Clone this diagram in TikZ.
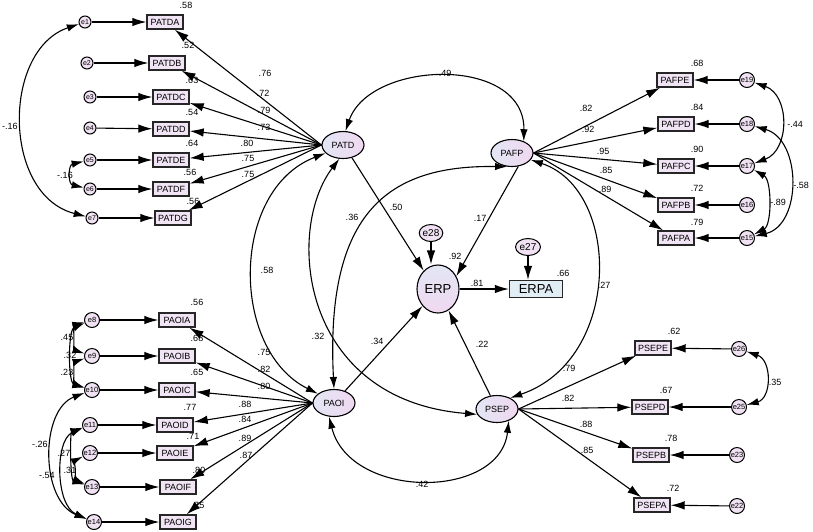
\documentclass[tikz,border=0pt]{standalone}
\usepackage{fontspec}
\setmainfont{Liberation Sans}
\usetikzlibrary{arrows.meta,shapes.geometric}
\definecolor{latL}{RGB}{226,230,244}
\definecolor{latR}{RGB}{240,216,240}
\definecolor{obsfill}{RGB}{241,229,245}
\definecolor{errfill}{RGB}{240,226,243}
\definecolor{erpafill}{RGB}{226,238,246}
\begin{document}
\begin{tikzpicture}[x=1pt,y=-1pt,
  lat/.style={ellipse, draw, line width=1.1pt, left color=latL, right color=latR, minimum width=42pt, minimum height=27pt, inner sep=0pt, font=\fontsize{9}{9}\selectfont},
  obs/.style={rectangle, draw=black!85, line width=1.4pt, fill=obsfill, minimum width=36pt, minimum height=14pt, inner sep=1pt, font=\fontsize{9}{9}\selectfont},
  errs/.style={circle, draw, line width=1pt, fill=errfill, minimum size=12pt, inner sep=0pt, font=\fontsize{7}{7}\selectfont},
  errb/.style={circle, draw, line width=1pt, fill=errfill, minimum size=15pt, inner sep=0pt, font=\fontsize{7.5}{7.5}\selectfont},
  erre/.style={ellipse, draw, line width=1pt, fill=errfill, minimum width=22pt, minimum height=17pt, inner sep=0pt, font=\fontsize{10}{10}\selectfont},
  pth/.style={-{Latex[length=14pt,width=8.5pt]}, line width=1.1pt},
  cov/.style={{Latex[length=12pt,width=7.5pt]}-{Latex[length=12pt,width=7.5pt]}, line width=1.1pt},
  num/.style={font=\fontsize{9}{9}\selectfont, inner sep=0pt}]
\useasboundingbox (0,0) rectangle (813,531);
\fill[white] (0,0) rectangle (813,531);

% latent variables
\node[lat] (PATD) at (343,145) {PATD};
\node[lat] (PAFP) at (512,153) {PAFP};
\node[lat] (PAOI) at (334,403) {PAOI};
\node[lat] (PSEP) at (497,409) {PSEP};
\node[lat, minimum width=42pt, minimum height=48pt, top color=latL, bottom color=latR, font=\fontsize{13}{13}\selectfont] (ERP) at (438,289) {ERP};
\node[obs, fill=erpafill, minimum width=53pt, minimum height=17pt, font=\fontsize{13}{13}\selectfont] (ERPA) at (536,289) {ERPA};
\node[erre] (e28) at (431,233) {e28};
\node[erre, minimum width=25pt] (e27) at (528,247) {e27};

% PATD indicators
\node[obs] (PATDA) at (165,22) {PATDA};
\node[obs] (PATDB) at (167,63) {PATDB};
\node[obs] (PATDC) at (171,97) {PATDC};
\node[obs] (PATDD) at (171,129) {PATDD};
\node[obs] (PATDE) at (171,160) {PATDE};
\node[obs] (PATDF) at (171,189) {PATDF};
\node[obs] (PATDG) at (173,218) {PATDG};
\node[errs] (e1) at (85,22) {e1};
\node[errs] (e2) at (87,63) {e2};
\node[errs] (e3) at (90,97) {e3};
\node[errs] (e4) at (90,128) {e4};
\node[errs] (e5) at (90,160) {e5};
\node[errs] (e6) at (90,189) {e6};
\node[errs] (e7) at (92,218) {e7};

% PAOI indicators
\node[obs] (PAOIA) at (177,320) {PAOIA};
\node[obs] (PAOIB) at (177,356) {PAOIB};
\node[obs] (PAOIC) at (177,390) {PAOIC};
\node[obs] (PAOID) at (175,425) {PAOID};
\node[obs] (PAOIE) at (175,453) {PAOIE};
\node[obs] (PAOIF) at (178,487) {PAOIF};
\node[obs] (PAOIG) at (178,522) {PAOIG};
\node[errb] (e8) at (92,320) {e8};
\node[errb] (e9) at (92,356) {e9};
\node[errb] (e10) at (92,390) {e10};
\node[errb] (e11) at (90,425) {e11};
\node[errb] (e12) at (90,453) {e12};
\node[errb] (e13) at (92,487) {e13};
\node[errb] (e14) at (94,522) {e14};

% PAFP indicators
\node[obs] (PAFPE) at (675,80) {PAFPE};
\node[obs] (PAFPD) at (676,124) {PAFPD};
\node[obs] (PAFPC) at (676,166) {PAFPC};
\node[obs] (PAFPB) at (676,205) {PAFPB};
\node[obs] (PAFPA) at (676,238) {PAFPA};
\node[errb] (e19) at (747,80) {e19};
\node[errb] (e18) at (747,124) {e18};
\node[errb] (e17) at (747,166) {e17};
\node[errb] (e16) at (747,205) {e16};
\node[errb] (e15) at (747,238) {e15};

% PSEP indicators
\node[obs] (PSEPE) at (653,348) {PSEPE};
\node[obs] (PSEPD) at (650,407) {PSEPD};
\node[obs] (PSEPB) at (651,455) {PSEPB};
\node[obs] (PSEPA) at (652,505) {PSEPA};
\node[errb] (e26) at (739,349) {e26};
\node[errb] (e25) at (739,407) {e25};
\node[errb] (e23) at (737,455) {e23};
\node[errb] (e22) at (737,506) {e22};

% error -> indicator
\foreach \e/\v in {e1/PATDA,e2/PATDB,e3/PATDC,e4/PATDD,e5/PATDE,e6/PATDF,e7/PATDG,
  e8/PAOIA,e9/PAOIB,e10/PAOIC,e11/PAOID,e12/PAOIE,e13/PAOIF,e14/PAOIG,
  e19/PAFPE,e18/PAFPD,e17/PAFPC,e16/PAFPB,e15/PAFPA,
  e26/PSEPE,e25/PSEPD,e23/PSEPB,e22/PSEPA}
  \draw[pth] (\e) -- (\v);

% loadings
\foreach \v in {PATDA,PATDB,PATDC,PATDD,PATDE,PATDF,PATDG} \draw[pth] (PATD.west) -- (\v);
\foreach \v in {PAOIA,PAOIB,PAOIC,PAOID,PAOIE,PAOIF,PAOIG} \draw[pth] (PAOI.west) -- (\v);
\foreach \v in {PAFPE,PAFPD,PAFPC,PAFPB,PAFPA} \draw[pth] (PAFP.east) -- (\v);
\foreach \v in {PSEPE,PSEPD,PSEPB,PSEPA} \draw[pth] (PSEP.east) -- (\v);

% structural paths
\draw[pth] (PATD.-55) -- (ERP.128);
\draw[pth] (PAFP.-65) -- (ERP.35);
\draw[pth] (PAOI) -- (ERP);
\draw[pth] (PSEP) -- (ERP);
\draw[pth] (ERP) -- (ERPA);
\draw[pth] (e28) -- (e28 |- ERP.north);
\draw[pth] (e27) -- (e27 |- ERPA.north);

% latent covariances
\draw[cov] (PATD.80) .. controls (370,60) and (525,55) .. (PAFP.45);
\draw[cov] (PAOI.north) .. controls (325,210) and (390,165) .. (PAFP.250);
\draw[cov] (PATD.205) .. controls (230,190) and (230,350) .. (PAOI.150);
\draw[cov] (PATD.255) .. controls (285,230) and (300,400) .. (PSEP.195);
\draw[cov] (PAFP.-20) .. controls (622,190) and (622,360) .. (PSEP.40);
\draw[cov] (PAOI.250) .. controls (350,500) and (500,500) .. (PSEP.-45);

% error covariances
\draw[cov] (e1) .. controls (2,50) and (2,195) .. (e7);
\draw[cov] (e5) .. controls (68,165) and (68,184) .. (e6);
\draw[cov] (e8) .. controls (74,325) and (74,350) .. (e9);
\draw[cov] (e8) .. controls (68,330) and (68,382) .. (e10);
\draw[cov] (e9) .. controls (74,362) and (74,385) .. (e10);
\draw[cov] (e10) .. controls (40,410) and (40,500) .. (e14);
\draw[cov] (e11) .. controls (55,440) and (55,505) .. (e14);
\draw[cov] (e11) .. controls (70,432) and (70,480) .. (e13);
\draw[cov] (e12) .. controls (76,460) and (76,480) .. (e13);
\draw[cov] (e19) .. controls (790,95) and (790,150) .. (e17);
\draw[cov] (e18) .. controls (802,140) and (802,225) .. (e15);
\draw[cov] (e17) .. controls (772,180) and (772,225) .. (e15);
\draw[cov] (e26) .. controls (772,360) and (772,398) .. (e25);

% numbers: squared multiple correlations
\node[num] (r1) at (186,5) {.58};
\node[num] (r2) at (188,45) {.52};
\node[num] (r3) at (192,80) {.63};
\node[num] (r4) at (192,112) {.54};
\node[num] (r5) at (192,143) {.64};
\node[num] (r6) at (190,172) {.56};
\node[num] (r7) at (193,201) {.56};
\node[num] (r8) at (197,302) {.56};
\node[num] (r9) at (197,338) {.68};
\node[num] (r10) at (197,372) {.65};
\node[num] (r11) at (190,407) {.77};
\node[num] (r12) at (193,436) {.71};
\node[num] (r13) at (199,470) {.80};
\node[num] (r14) at (198,505) {.75};
\node[num] (r19) at (697,63) {.68};
\node[num] (r18) at (697,107) {.84};
\node[num] (r17) at (697,149) {.90};
\node[num] (r16) at (697,188) {.72};
\node[num] (r15) at (697,222) {.79};
\node[num] (r26) at (674,331) {.62};
\node[num] (r25) at (666,390) {.67};
\node[num] (r23) at (671,438) {.78};
\node[num] (r22) at (673,488) {.72};
\node[num] (rERP) at (455,256) {.92};
\node[num] (rERPA) at (563,273) {.66};

% loadings labels
\node[num] (l1) at (265,73) {.76};
\node[num] (l2) at (263,93) {.72};
\node[num] (l3) at (264,110) {.79};
\node[num] (l4) at (264,127) {.73};
\node[num] (l5) at (247,143) {.80};
\node[num] (l6) at (248,158) {.75};
\node[num] (l7) at (248,174) {.75};
\node[num] (l8) at (264,352) {.75};
\node[num] (l9) at (264,369) {.82};
\node[num] (l10) at (264,386) {.80};
\node[num] (l11) at (245,404) {.88};
\node[num] (l12) at (245,419) {.84};
\node[num] (l13) at (245,438) {.89};
\node[num] (l14) at (246,455) {.87};
\node[num] (l19) at (586,108) {.82};
\node[num] (l18) at (588,129) {.92};
\node[num] (l17) at (603,151) {.95};
\node[num] (l16) at (606,170) {.85};
\node[num] (l15) at (605,189) {.89};
\node[num] (l26) at (569,368) {.79};
\node[num] (l25) at (568,398) {.82};
\node[num] (l23) at (586,424) {.88};
\node[num] (l22) at (587,450) {.85};

% structural / covariance labels
\node[num] (c1) at (445,73) {.49};
\node[num] (c2) at (352,217) {.36};
\node[num] (c3) at (396,207) {.50};
\node[num] (c4) at (480,218) {.17};
\node[num] (c5) at (267,270) {.58};
\node[num] (c6) at (318,336) {.32};
\node[num] (c7) at (377,341) {.34};
\node[num] (c8) at (482,344) {.22};
\node[num] (c9) at (477,283) {.81};
\node[num] (c10) at (604,285) {.27};
\node[num] (c11) at (422,484) {.42};
\node[num] (c12) at (10,126) {-.16};
\node[num] (c13) at (65,175) {-.16};
\node[num] (c14) at (67,337) {.45};
\node[num] (c15) at (70,355) {.32};
\node[num] (c16) at (67,372) {.23};
\node[num] (c17) at (40,444) {-.26};
\node[num] (c18) at (64,453) {.27};
\node[num] (c19) at (70,470) {.31};
\node[num] (c20) at (47,475) {-.54};
\node[num] (c21) at (795,124) {-.44};
\node[num] (c22) at (801,185) {-.58};
\node[num] (c23) at (778,202) {-.89};
\node[num] (c24) at (775,382) {.35};
\end{tikzpicture}
\end{document}
